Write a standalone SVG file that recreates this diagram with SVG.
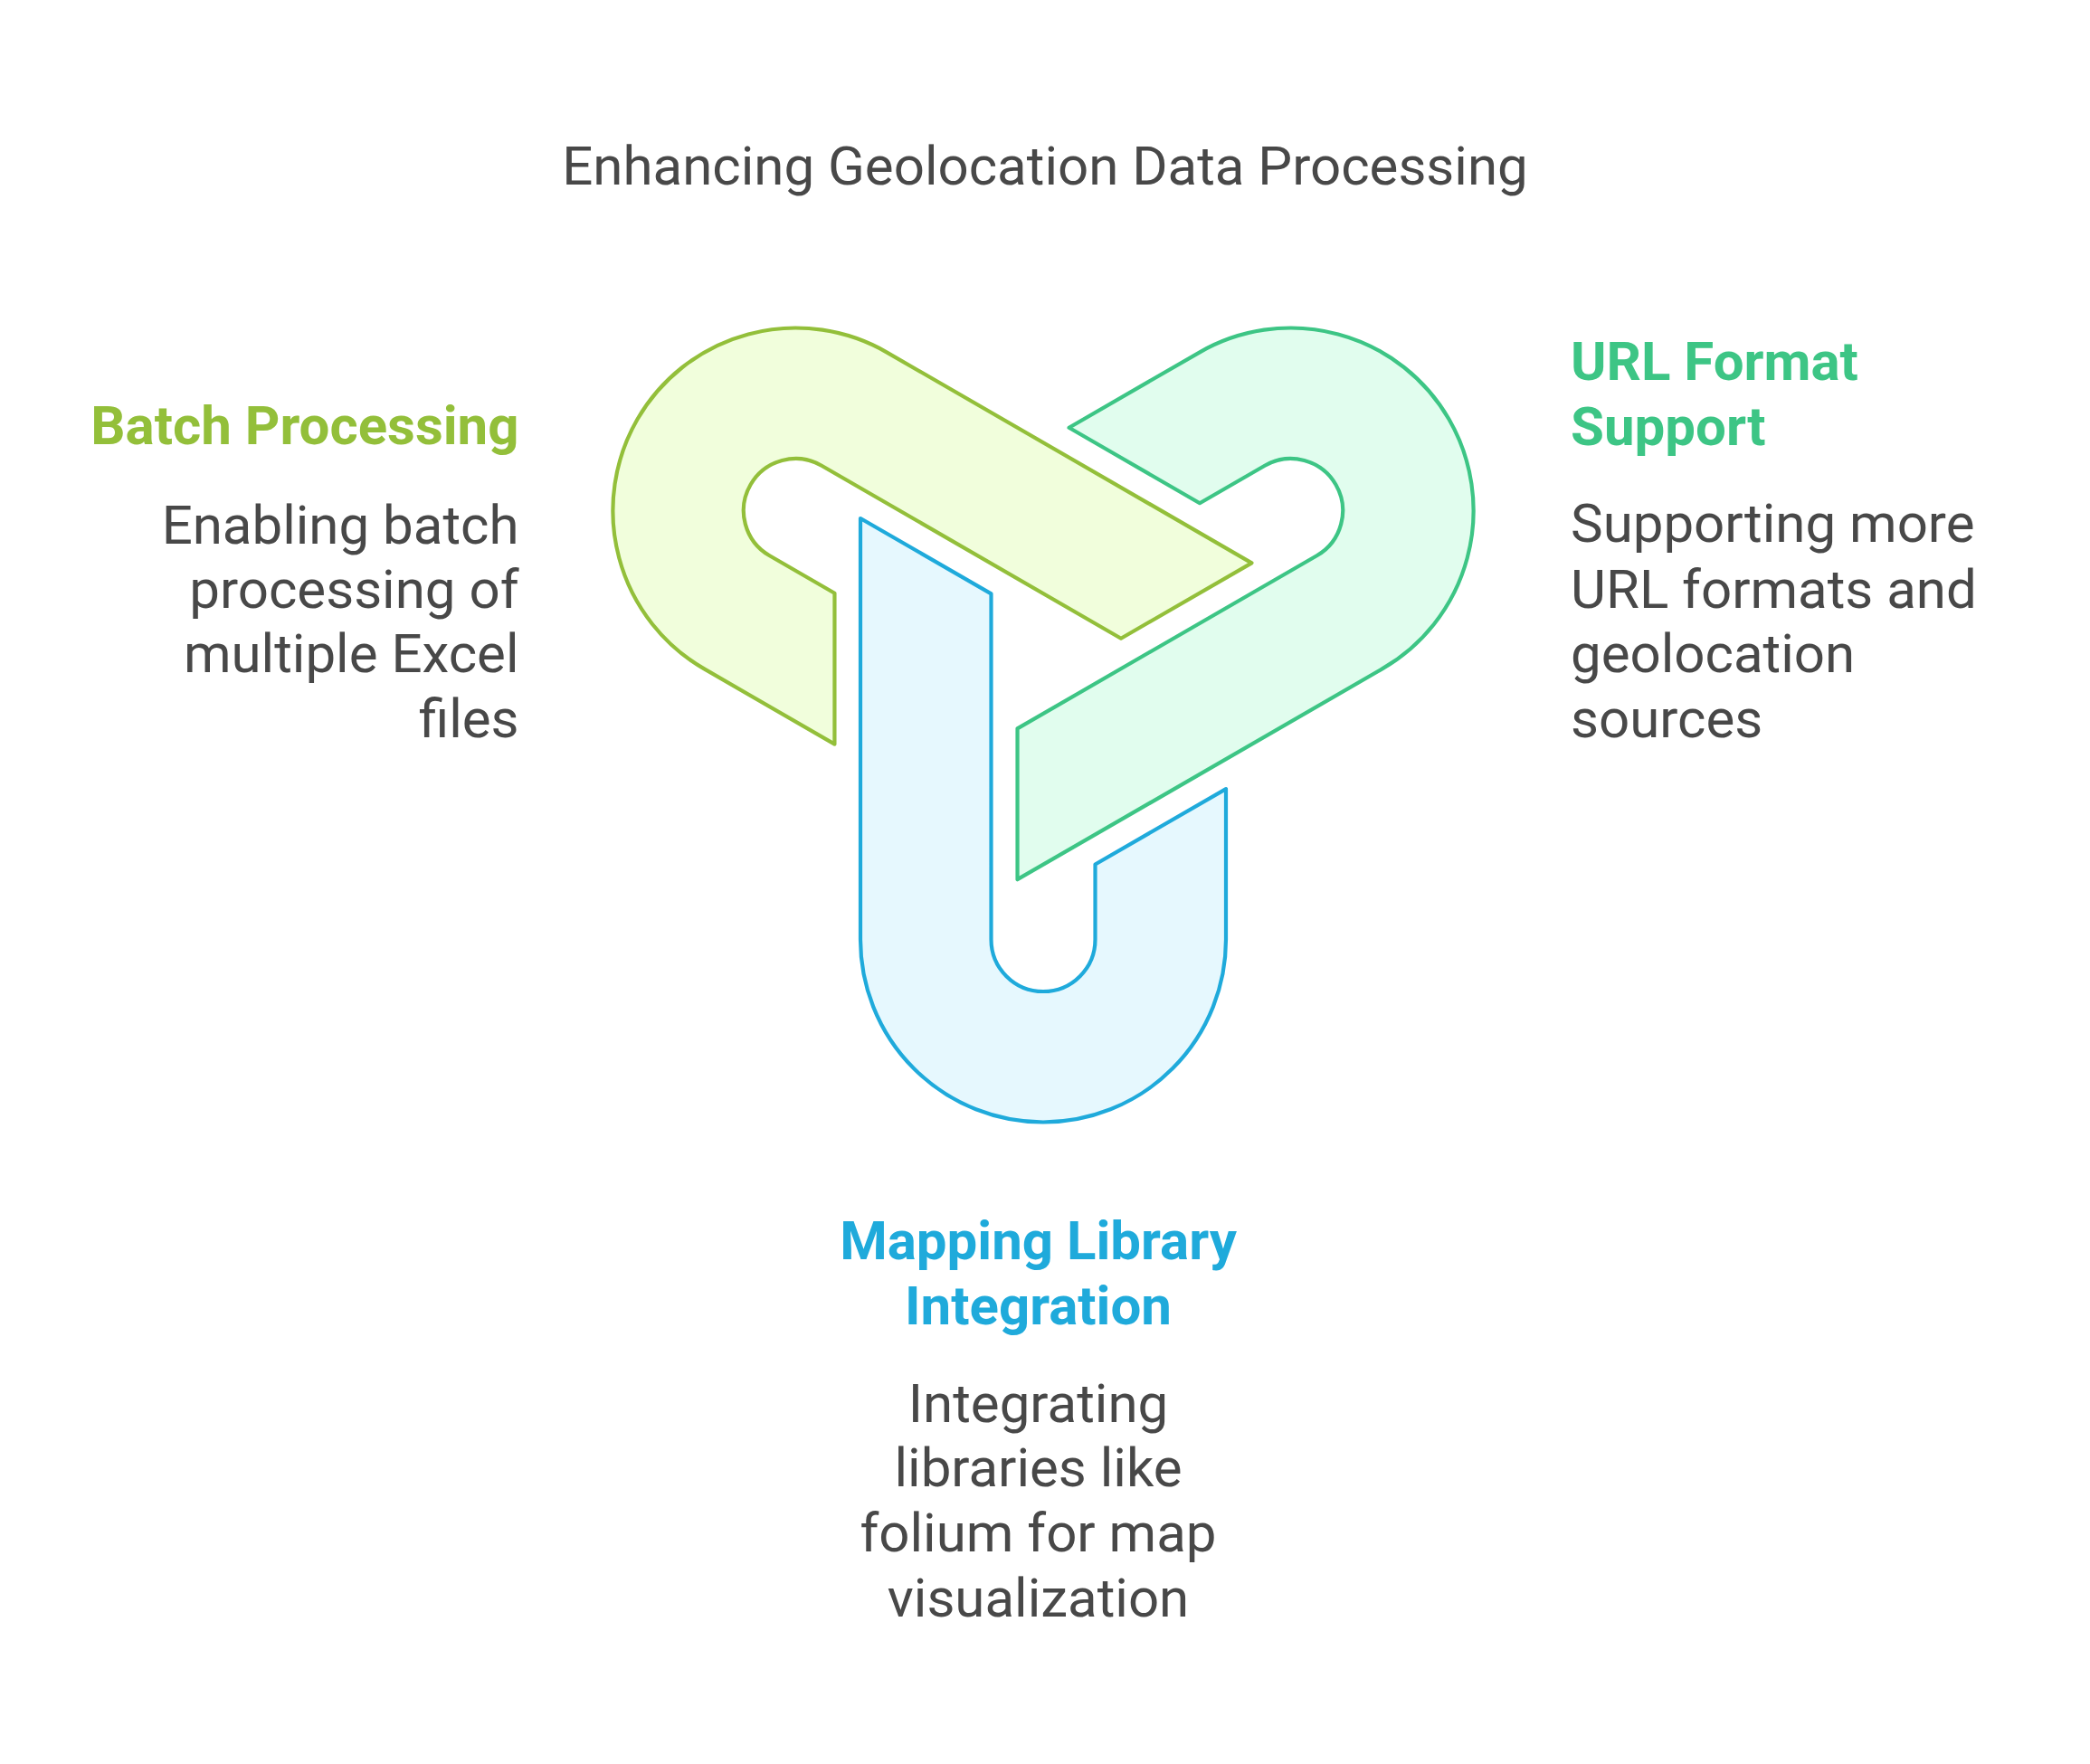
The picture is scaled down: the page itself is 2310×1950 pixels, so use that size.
<svg xmlns="http://www.w3.org/2000/svg" width="2310" height="1950" viewBox="0 0 2310 1950">
<style>
.t{font-family:Roboto,"Liberation Sans",sans-serif;font-size:60px;fill:#484848}
.h{font-family:Roboto,"Liberation Sans",sans-serif;font-size:60px;font-weight:700}
.s{stroke-width:4.2;stroke-linejoin:round}
</style>
<rect width="2310" height="1950" fill="#ffffff"/>
<text class="t" x="1155" y="204" text-anchor="middle">Enhancing Geolocation Data Processing</text>
<g id="connectors"></g>
<g id="mapping">
<path class="s" fill="#E6F8FE" stroke="#1FAADB" d="M951,573 L1095.5,656.4 L1095.5,1038.5 A57.5,57.5 0 0 0 1210.5,1038.5 L1210.5,955.5 L1355,872.1 L1355,1038.5 A202,202 0 0 1 951,1038.5 Z"/>
<text class="h" fill="#1FAADB" x="1147.5" y="1392" text-anchor="middle">Mapping Library</text>
<text class="h" fill="#1FAADB" x="1147.5" y="1464" text-anchor="middle">Integration</text>
<text class="t" x="1147.5" y="1572" text-anchor="middle">Integrating</text>
<text class="t" x="1147.5" y="1643" text-anchor="middle">libraries like</text>
<text class="t" x="1147.5" y="1715" text-anchor="middle">folium for map</text>
<text class="t" x="1147.5" y="1787" text-anchor="middle">visualization</text>
</g>
<g id="batch">
<path class="s" fill="#F1FEDC" stroke="#93BF3A" d="M1383.47,622.31 L1238.99,705.75 L908.09,514.7 A57.5,57.5 0 0 0 850.59,614.3 L922.47,655.8 L922.44,822.64 L778.34,739.44 A202,202 0 0 1 980.34,389.56 Z"/>
<text class="h" fill="#93BF3A" x="573.5" y="491" text-anchor="end">Batch Processing</text>
<text class="t" x="573.5" y="601" text-anchor="end">Enabling batch</text>
<text class="t" x="573.5" y="672" text-anchor="end">processing of</text>
<text class="t" x="573.5" y="743" text-anchor="end">multiple Excel</text>
<text class="t" x="573.5" y="815" text-anchor="end">files</text>
</g>
<g id="url">
<path class="s" fill="#E1FDEE" stroke="#3DC585" d="M1124.53,972.19 L1124.51,805.35 L1455.41,614.3 A57.5,57.5 0 0 0 1397.91,514.7 L1326.03,556.2 L1181.56,472.76 L1325.66,389.56 A202,202 0 0 1 1527.66,739.44 Z"/>
<text class="h" fill="#3DC585" x="1736" y="420">URL Format</text>
<text class="h" fill="#3DC585" x="1736" y="492">Support</text>
<text class="t" x="1736" y="599">Supporting more</text>
<text class="t" x="1736" y="672">URL formats and</text>
<text class="t" x="1736" y="743">geolocation</text>
<text class="t" x="1736" y="815">sources</text>
</g>
</svg>
